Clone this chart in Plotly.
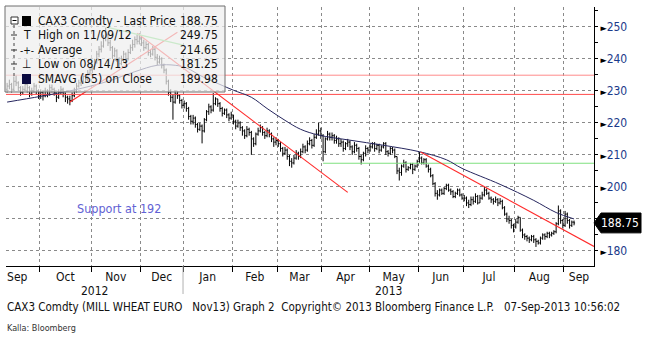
import plotly.graph_objects as go

FONT = "Tahoma, 'DejaVu Sans Condensed', 'Liberation Sans', Arial, sans-serif"

# ---------------- data ----------------
month_labels = ["Sep", "Oct", "Nov", "Dec", "Jan", "Feb", "Mar", "Apr", "May", "Jun", "Jul", "Aug", "Sep"]
month_days = [15, 23, 22, 19, 22, 20, 20, 21, 22, 20, 23, 22, 5]   # trading days shown per month
first_month_full_days = 20   # Sep 2012 has 20 trading days; only the last 15 are shown
year_labels = ["2012", "2013"]
year_first_month = [0, 4]

sep12_open = [230.5, 231.5, 232.0, 230.5, 233.0, 232.5, 231.0, 229.5, 230.5, 232.0, 231.0, 229.0, 230.0, 231.5, 230.0]
sep12_high = [232.5, 233.5, 232.5, 234.5, 235.0, 233.0, 231.5, 231.5, 233.5, 232.5, 231.5, 231.0, 232.5, 232.0, 230.5]
sep12_low = [229.5, 230.5, 229.5, 230.0, 231.5, 230.0, 228.5, 229.0, 230.0, 229.5, 228.0, 228.5, 229.5, 229.0, 227.5]
sep12_close = [231.5, 232.0, 230.5, 233.0, 232.5, 231.0, 229.5, 230.5, 232.0, 231.0, 229.0, 230.0, 231.5, 230.0, 228.5]

oct12_open = [228.5, 229.5, 228.5, 230.0, 229.0, 231.0, 230.5, 229.5, 228.0, 229.5, 230.5, 229.0, 228.0, 227.5, 227.0, 228.5, 230.0, 231.5, 232.5, 233.0, 234.5, 233.5, 235.5]
oct12_high = [230.5, 230.0, 231.0, 230.5, 232.0, 232.0, 231.0, 229.5, 230.5, 231.5, 231.0, 229.5, 228.5, 228.5, 229.5, 231.0, 232.5, 233.5, 234.5, 235.5, 235.0, 236.5, 237.5]
oct12_low = [227.5, 227.0, 228.0, 228.0, 228.5, 229.5, 228.5, 226.5, 227.5, 229.0, 228.0, 226.5, 226.0, 225.5, 226.5, 228.0, 229.5, 231.0, 231.5, 232.5, 232.5, 233.0, 235.0]
oct12_close = [229.5, 228.5, 230.0, 229.0, 231.0, 230.5, 229.5, 228.0, 229.5, 230.5, 229.0, 228.0, 227.5, 227.0, 228.5, 230.0, 231.5, 232.5, 233.0, 234.5, 233.5, 235.5, 236.5]

nov12_open = [236.5, 237.5, 239.0, 241.5, 243.0, 244.0, 246.5, 247.5, 245.0, 243.5, 241.0, 242.5, 240.0, 238.5, 239.5, 241.5, 240.0, 242.0, 243.5, 244.5, 246.0, 245.5]
nov12_high = [238.5, 240.0, 242.5, 244.0, 245.5, 247.5, 249.75, 248.0, 246.0, 244.0, 243.5, 243.0, 240.5, 241.0, 242.5, 242.0, 243.0, 244.5, 246.0, 247.0, 247.5, 248.0]
nov12_low = [235.5, 236.5, 238.5, 240.5, 242.0, 243.5, 245.5, 244.0, 242.5, 240.0, 240.5, 239.0, 237.0, 238.0, 239.0, 239.0, 239.5, 241.5, 242.5, 243.5, 244.5, 244.5]
nov12_close = [237.5, 239.0, 241.5, 243.0, 244.0, 246.5, 247.5, 245.0, 243.5, 241.0, 242.5, 240.0, 238.5, 239.5, 241.5, 240.0, 242.0, 243.5, 244.5, 246.0, 245.5, 246.5]

dec12_open = [246.5, 245.0, 243.5, 244.5, 242.0, 241.5, 243.0, 240.5, 239.0, 240.0, 238.0, 236.5, 233.0, 229.5, 228.0, 226.5, 229.0, 228.5, 227.0]
dec12_high = [247.0, 246.0, 245.5, 245.0, 243.0, 244.0, 243.5, 241.5, 241.0, 240.5, 238.5, 237.0, 233.5, 230.5, 229.0, 230.0, 230.0, 229.0, 227.5]
dec12_low = [244.0, 242.5, 243.0, 241.0, 240.5, 241.0, 239.5, 238.0, 238.5, 237.0, 235.5, 232.0, 228.5, 226.5, 221.0, 226.0, 227.5, 226.0, 224.5]
dec12_close = [245.0, 243.5, 244.5, 242.0, 241.5, 243.0, 240.5, 239.0, 240.0, 238.0, 236.5, 233.0, 229.5, 228.0, 226.5, 229.0, 228.5, 227.0, 225.5]

jan13_open = [225.5, 226.0, 224.5, 222.0, 220.5, 221.5, 219.5, 218.0, 219.0, 217.5, 221.0, 223.5, 225.0, 224.0, 226.0, 227.5, 226.0, 224.5, 223.0, 224.0, 222.5, 221.5]
jan13_high = [227.0, 226.5, 225.0, 222.5, 222.5, 222.0, 220.0, 220.0, 219.5, 221.5, 224.0, 226.0, 225.5, 229.3, 228.0, 227.5, 226.5, 225.0, 224.5, 224.5, 223.0, 223.5]
jan13_low = [224.5, 223.5, 221.0, 219.5, 219.5, 218.5, 217.0, 217.5, 213.6, 217.0, 220.5, 222.5, 223.0, 223.5, 225.5, 225.0, 223.5, 222.0, 222.5, 221.5, 220.5, 221.0]
jan13_close = [226.0, 224.5, 222.0, 220.5, 221.5, 219.5, 218.0, 219.0, 217.5, 221.0, 223.5, 225.0, 224.0, 226.0, 227.5, 226.0, 224.5, 223.0, 224.0, 222.5, 221.5, 222.5]

feb13_open = [222.5, 220.5, 219.0, 220.0, 218.5, 217.5, 216.0, 218.0, 217.0, 215.0, 213.5, 216.5, 217.5, 218.5, 217.0, 216.0, 217.5, 216.5, 215.0, 214.0]
feb13_high = [222.5, 221.0, 221.0, 220.5, 219.0, 218.0, 219.0, 218.5, 217.5, 215.5, 217.0, 218.5, 219.5, 219.0, 217.5, 218.5, 218.0, 217.0, 215.5, 215.5]
feb13_low = [219.5, 218.0, 218.5, 217.5, 216.0, 215.0, 215.5, 216.0, 210.0, 212.5, 213.0, 216.0, 217.0, 216.0, 215.0, 215.5, 215.5, 214.0, 212.5, 213.0]
feb13_close = [220.5, 219.0, 220.0, 218.5, 217.5, 216.0, 218.0, 217.0, 215.0, 213.5, 216.5, 217.5, 218.5, 217.0, 216.0, 217.5, 216.5, 215.0, 214.0, 214.5]

mar13_open = [214.5, 213.5, 212.0, 210.5, 211.5, 209.5, 208.0, 207.5, 209.0, 210.5, 209.5, 211.0, 212.5, 211.5, 213.5, 214.5, 213.0, 215.5, 216.5, 217.5]
mar13_high = [215.0, 214.0, 212.5, 212.5, 212.0, 210.0, 209.0, 210.0, 211.5, 211.0, 212.0, 213.5, 213.0, 214.5, 215.5, 215.0, 216.5, 218.0, 220.0, 218.5]
mar13_low = [212.5, 211.0, 209.5, 210.0, 208.5, 206.5, 206.0, 207.0, 208.5, 208.5, 209.0, 210.5, 210.5, 211.0, 213.0, 212.0, 212.5, 215.0, 216.0, 215.0]
mar13_close = [213.5, 212.0, 210.5, 211.5, 209.5, 208.0, 207.5, 209.0, 210.5, 209.5, 211.0, 212.5, 211.5, 213.5, 214.5, 213.0, 215.5, 216.5, 217.5, 216.0]

apr13_open = [216.0, 211.0, 215.0, 216.5, 215.5, 216.0, 214.5, 215.0, 213.5, 214.0, 212.0, 213.5, 214.0, 212.5, 211.0, 213.0, 212.0, 209.5, 208.5, 210.5, 212.0]
apr13_high = [216.5, 215.5, 217.5, 217.0, 217.0, 216.5, 216.0, 215.5, 215.0, 214.5, 214.0, 215.0, 214.5, 213.0, 214.0, 213.5, 212.5, 210.0, 211.0, 213.0, 212.5]
apr13_low = [208.0, 210.5, 214.5, 214.5, 214.5, 213.5, 213.5, 212.5, 212.5, 211.0, 211.5, 212.5, 211.5, 210.0, 210.5, 211.0, 208.5, 207.0, 208.0, 209.5, 210.5]
apr13_close = [211.0, 215.0, 216.5, 215.5, 216.0, 214.5, 215.0, 213.5, 214.0, 212.0, 213.5, 214.0, 212.5, 211.0, 213.0, 212.0, 209.5, 208.5, 210.5, 212.0, 211.5]

may13_open = [211.5, 212.5, 213.5, 212.0, 213.0, 211.5, 212.5, 213.5, 211.0, 210.5, 212.0, 211.5, 209.5, 205.0, 204.5, 206.5, 207.5, 205.5, 206.0, 207.0, 205.5, 206.5]
may13_high = [213.5, 214.0, 214.0, 213.5, 213.5, 213.0, 214.0, 214.0, 211.5, 212.5, 212.5, 212.0, 209.5, 206.0, 207.0, 208.5, 208.0, 206.5, 207.5, 207.5, 207.0, 208.5]
may13_low = [211.0, 212.0, 211.0, 211.5, 210.5, 211.0, 212.0, 210.0, 209.5, 210.0, 210.5, 209.0, 204.0, 202.0, 203.5, 206.0, 204.5, 205.0, 205.5, 204.0, 205.0, 206.0]
may13_close = [212.5, 213.5, 212.0, 213.0, 211.5, 212.5, 213.5, 211.0, 210.5, 212.0, 211.5, 209.5, 205.0, 204.5, 206.5, 207.5, 205.5, 206.0, 207.0, 205.5, 206.5, 208.0]

jun13_open = [208.0, 209.0, 207.5, 208.5, 206.5, 205.5, 203.5, 201.0, 198.0, 197.5, 199.0, 198.0, 199.5, 200.5, 199.0, 198.5, 197.0, 198.0, 199.0, 197.5]
jun13_high = [210.9, 209.5, 209.0, 209.0, 207.0, 206.0, 204.0, 201.5, 199.0, 199.5, 199.5, 200.0, 201.0, 201.0, 199.5, 199.0, 198.5, 199.5, 199.5, 198.0]
jun13_low = [207.5, 207.0, 207.0, 206.0, 204.5, 203.0, 200.5, 197.0, 196.0, 197.0, 197.5, 197.5, 199.0, 198.5, 197.5, 196.5, 196.5, 197.5, 197.0, 196.0]
jun13_close = [209.0, 207.5, 208.5, 206.5, 205.5, 203.5, 201.0, 198.0, 197.5, 199.0, 198.0, 199.5, 200.5, 199.0, 198.5, 197.0, 198.0, 199.0, 197.5, 196.5]

jul13_open = [196.5, 196.5, 195.0, 194.5, 196.0, 195.5, 197.0, 195.0, 196.5, 197.5, 199.0, 198.0, 196.5, 196.0, 195.5, 196.0, 195.0, 195.5, 193.5, 191.5, 190.0, 189.5, 188.0]
jul13_high = [197.5, 197.0, 196.0, 197.0, 197.0, 198.0, 197.5, 197.5, 198.5, 200.0, 199.5, 198.5, 197.0, 196.5, 197.0, 196.5, 196.5, 196.0, 194.0, 192.0, 191.0, 190.0, 188.5]
jul13_low = [195.5, 194.0, 193.4, 194.0, 194.5, 195.0, 194.5, 195.0, 196.0, 197.0, 197.5, 196.0, 195.0, 194.5, 195.0, 194.0, 194.5, 193.0, 191.0, 189.0, 188.5, 187.0, 185.8]
jul13_close = [196.5, 195.0, 194.5, 196.0, 195.5, 197.0, 195.0, 196.5, 197.5, 199.0, 198.0, 196.5, 196.0, 195.5, 196.0, 195.0, 195.5, 193.5, 191.5, 190.0, 189.5, 188.0, 187.5]

aug13_open = [187.5, 189.0, 190.5, 186.5, 185.0, 184.5, 184.0, 183.5, 184.5, 183.5, 183.0, 182.5, 184.0, 185.0, 184.5, 185.5, 185.0, 185.5, 186.0, 188.5, 192.5, 189.5]
aug13_high = [190.0, 191.0, 190.5, 187.0, 185.5, 185.0, 184.5, 185.0, 185.0, 184.0, 183.5, 184.5, 185.5, 185.5, 186.0, 186.0, 186.0, 186.5, 189.0, 194.2, 193.0, 190.0]
aug13_low = [187.0, 188.5, 186.0, 184.0, 183.5, 183.0, 182.5, 183.0, 182.5, 181.25, 182.0, 182.0, 183.5, 183.5, 184.0, 184.0, 184.5, 185.0, 185.5, 188.0, 188.5, 187.0]
aug13_close = [189.0, 190.5, 186.5, 185.0, 184.5, 184.0, 183.5, 184.5, 183.5, 183.0, 182.5, 184.0, 185.0, 184.5, 185.5, 185.0, 185.5, 186.0, 188.5, 192.5, 189.5, 188.0]

sep13_open = [188.0, 191.5, 189.5, 188.0, 189.0]
sep13_high = [192.5, 192.0, 190.0, 189.5, 189.5]
sep13_low = [187.5, 188.5, 187.0, 187.5, 188.0]
sep13_close = [191.5, 189.5, 188.0, 189.0, 188.75]

# 55-day simple moving average (bar index, value)
sma_idx = [0, 15, 30, 45, 57, 67, 75, 80, 87, 95, 101, 109, 116, 124, 131, 139, 153, 168, 184, 196, 203, 220, 235, 245, 253]
sma_val = [226.5, 228.3, 230.3, 233.0, 236.0, 238.0, 238.0, 237.2, 234.5, 232.0, 230.2, 228.0, 224.5, 220.8, 218.0,
           216.2, 214.6, 213.0, 211.0, 208.5, 205.8, 200.8, 195.8, 192.0, 190.0]

# drawn trend lines (bar index, value)
up_trend_idx = [28, 76]
up_trend_val = [226.5, 248.3]
down_trend1_idx = [58, 152]
down_trend1_val = [248.0, 198.3]
down_trend2_idx = [184.5, 261.9]
down_trend2_val = [210.9, 181.4]
green_trend_idx = [44.4, 78.6]
green_trend_val = [249.9, 244.3]
green_level_start = 141
green_level = 207.4
red_levels = [234.9, 228.9]

legend_names = ["CAX3 Comdty - Last Price", "High on 11/09/12", "Average", "Low on 08/14/13", "SMAVG (55) on Close"]
legend_values = [188.75, 249.75, 214.65, 181.25, 189.98]
last_price = 188.75
y_ticks = [180, 190, 200, 210, 220, 230, 240, 250]

footer_text = "CAX3 Comdty (MILL WHEAT EURO   Nov13) Graph 2  Copyright\u00a9 2013 Bloomberg Finance L.P.   07-Sep-2013 10:56:02"
source_text = "Kalla: Bloomberg"
support_text = "Support at 192"

# ---------------- assemble ----------------
opens = (sep12_open + oct12_open + nov12_open + dec12_open + jan13_open + feb13_open + mar13_open +
         apr13_open + may13_open + jun13_open + jul13_open + aug13_open + sep13_open)
highs = (sep12_high + oct12_high + nov12_high + dec12_high + jan13_high + feb13_high + mar13_high +
         apr13_high + may13_high + jun13_high + jul13_high + aug13_high + sep13_high)
lows = (sep12_low + oct12_low + nov12_low + dec12_low + jan13_low + feb13_low + mar13_low +
        apr13_low + may13_low + jun13_low + jul13_low + aug13_low + sep13_low)
closes = (sep12_close + oct12_close + nov12_close + dec12_close + jan13_close + feb13_close + mar13_close +
          apr13_close + may13_close + jun13_close + jul13_close + aug13_close + sep13_close)
xs = list(range(len(closes)))

X0, X1 = -0.5, 261.9
Y0, Y1 = 175.3, 256.2

bounds = []
acc = 0
for d in month_days[:-1]:
    acc += d
    bounds.append(acc - 0.5)
starts = [X0] + bounds
ends = bounds + [X1]
centers = [(a + b) / 2 for a, b in zip(starts, ends)]
centers[0] = bounds[0] - first_month_full_days / 2

# pixel helpers for decorations
PL, PR, PT, PB = 6, 594, 7, 266
def px(x):
    return (x - PL) / (PR - PL)
def py(y):
    return (PB - y) / (PB - PT)

fig = go.Figure()

for v, col in zip(red_levels, ["#ff8a8a", "#ff4a4a"]):
    fig.add_trace(go.Scatter(x=[X0, X1], y=[v, v], mode="lines", line=dict(color=col, width=1), hoverinfo="skip"))
fig.add_trace(go.Scatter(x=[green_level_start, X1], y=[green_level, green_level], mode="lines",
                         line=dict(color="#7fe07f", width=1.2), hoverinfo="skip"))

fig.add_trace(go.Ohlc(x=xs, open=opens, high=highs, low=lows, close=closes,
                      increasing=dict(line=dict(color="black", width=1)),
                      decreasing=dict(line=dict(color="black", width=1)),
                      tickwidth=0.45, hoverinfo="skip"))

fig.add_trace(go.Scatter(x=sma_idx, y=sma_val, mode="lines", line=dict(color="#26265e", width=1, shape="spline"),
                         hoverinfo="skip"))
for xi, yi in [(up_trend_idx, up_trend_val), (down_trend1_idx, down_trend1_val), (down_trend2_idx, down_trend2_val)]:
    fig.add_trace(go.Scatter(x=xi, y=yi, mode="lines", line=dict(color="#ff2a2a", width=1.1), hoverinfo="skip"))
fig.add_trace(go.Scatter(x=green_trend_idx, y=green_trend_val, mode="lines", line=dict(color="#6fdc6f", width=1.2),
                         hoverinfo="skip"))

shapes = []
annotations = []

# legend box (semi-transparent, above the data)
shapes.append(dict(type="rect", xref="paper", yref="paper", x0=px(5), x1=px(225), y0=py(92), y1=py(6),
                   fillcolor="rgba(238,238,238,0.72)", line=dict(color="#6e6e6e", width=1), layer="above"))
row_y = [21, 35, 50, 64, 79]
# tree
shapes.append(dict(type="line", xref="paper", yref="paper", x0=px(14), x1=px(14), y0=py(25), y1=py(79),
                   line=dict(color="#444", width=1, dash="dot"), layer="above"))
for ry in row_y[1:4]:
    shapes.append(dict(type="line", xref="paper", yref="paper", x0=px(11), x1=px(17), y0=py(ry), y1=py(ry),
                       line=dict(color="#333", width=1), layer="above"))
shapes.append(dict(type="rect", xref="paper", yref="paper", x0=px(11), x1=px(18), y0=py(24), y1=py(17),
                   fillcolor="white", line=dict(color="#333", width=1), layer="above"))
shapes.append(dict(type="line", xref="paper", yref="paper", x0=px(12.5), x1=px(16.5), y0=py(20.5), y1=py(20.5),
                   line=dict(color="#000", width=1), layer="above"))
shapes.append(dict(type="rect", xref="paper", yref="paper", x0=px(22), x1=px(31), y0=py(26), y1=py(16),
                   fillcolor="#000", line=dict(color="#000", width=0), layer="above"))
shapes.append(dict(type="rect", xref="paper", yref="paper", x0=px(22), x1=px(31), y0=py(84), y1=py(74),
                   fillcolor="#0a0a40", line=dict(color="#0a0a40", width=0), layer="above"))
icons = {1: "T", 2: "-+-", 3: "\u22a5"}
for k, txt in icons.items():
    annotations.append(dict(x=px(26.5), y=py(row_y[k]), xref="paper", yref="paper", text=txt, showarrow=False,
                            xanchor="center", yanchor="middle", font=dict(family=FONT, size=12 if k != 2 else 10, color="#111")))
for ry, name, val in zip(row_y, legend_names, legend_values):
    annotations.append(dict(x=px(36), y=py(ry), xref="paper", yref="paper", text=name, showarrow=False,
                            xanchor="left", yanchor="middle", font=dict(family=FONT, size=12, color="#111")))
    annotations.append(dict(x=px(220), y=py(ry), xref="paper", yref="paper", text=f"{val:.2f}", showarrow=False,
                            xanchor="right", yanchor="middle", font=dict(family=FONT, size=12, color="#111")))

# last price marker on right axis
lp_hi, lp_lo = last_price + 3.1, last_price - 3.1
shapes.append(dict(type="path", xref="paper", yref="y",
                   path=f"M {px(594)},{last_price} L {px(601)},{lp_hi} L {px(641)},{lp_hi} L {px(641)},{lp_lo} L {px(601)},{lp_lo} Z",
                   fillcolor="black", line=dict(color="black", width=1), layer="above"))
annotations.append(dict(x=px(620), y=last_price, xref="paper", yref="y", text=f"{last_price:.2f}", showarrow=False,
                        xanchor="center", yanchor="middle", font=dict(family=FONT, size=12, color="white")))

# year separator below axis
jan_bound = bounds[year_first_month[1] - 1]
shapes.append(dict(type="line", xref="x", yref="paper", x0=jan_bound, x1=jan_bound, y0=py(266), y1=py(294),
                   line=dict(color="#b0b0b0", width=1)))
year_ext = [(starts[0], jan_bound), (jan_bound, X1)]
for lbl, (a, b) in zip(year_labels, year_ext):
    annotations.append(dict(x=(a + b) / 2, y=py(291), xref="x", yref="paper", text=lbl, showarrow=False,
                            xanchor="center", yanchor="middle", font=dict(family=FONT, size=12, color="#111")))

annotations.append(dict(x=50, y=193.2, xref="x", yref="y", text=support_text, showarrow=False,
                        xanchor="center", yanchor="middle", font=dict(family=FONT, size=12.5, color="#6262d4")))
annotations.append(dict(x=px(5), y=py(307), xref="paper", yref="paper", text=footer_text, showarrow=False,
                        xanchor="left", yanchor="middle", font=dict(family=FONT, size=11.5, color="#111")))
annotations.append(dict(x=px(5), y=py(328), xref="paper", yref="paper", text=source_text, showarrow=False,
                        xanchor="left", yanchor="middle", font=dict(family=FONT, size=9, color="#333")))

ytext = [("" if v == 190 else "<span style='color:#000;font-size:9px'>\u25ba</span>" + str(v)) for v in y_ticks]

fig.update_layout(
    width=645, height=339,
    margin=dict(l=PL, r=645 - PR, t=PT, b=339 - PB),
    paper_bgcolor="white", plot_bgcolor="white",
    showlegend=False,
    shapes=shapes, annotations=annotations,
    xaxis=dict(range=[X0, X1], tickmode="array", tickvals=centers, ticktext=month_labels, ticks="",
               showgrid=False, showline=True, linecolor="black", linewidth=1, zeroline=False,
               tickfont=dict(family=FONT, size=12, color="#111"), rangeslider=dict(visible=False),
               minor=dict(tickmode="array", tickvals=bounds, ticks="outside", ticklen=5, tickcolor="black",
                          showgrid=True, gridcolor="#8a8a8a", griddash="3px,3px", gridwidth=1)),
    yaxis=dict(range=[Y0, Y1], side="right", tickmode="array", tickvals=y_ticks, ticktext=ytext,
               ticks="outside", ticklen=3, tickcolor="black", showline=True, linecolor="black", linewidth=1,
               showgrid=True, gridcolor="#8a8a8a", griddash="3px,3px", gridwidth=1, zeroline=False,
               tickfont=dict(family=FONT, size=12, color="#1a3a8a"),
               minor=dict(dtick=5, tick0=175, ticks="outside", ticklen=3, tickcolor="black", showgrid=False)),
)

fig.write_html("out.html")
